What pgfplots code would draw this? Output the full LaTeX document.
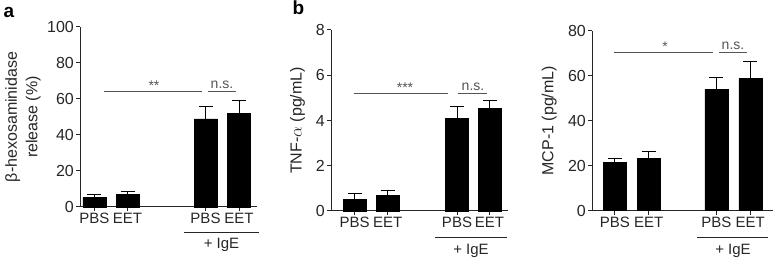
\documentclass[border=0pt]{standalone}
\usepackage{pgfplots}
\pgfplotsset{compat=1.18}
\usepackage{fontspec}
\setmainfont{Liberation Sans}
\definecolor{sig}{HTML}{555555}
\tikzset{sigtext/.style={sig, font=\fontsize{14}{16}\selectfont, anchor=base, inner sep=0pt}}
\pgfplotsset{
  panel/.style={
    scale only axis,
    axis lines=left,
    axis line style={-, line width=1pt, black!85},
    every tick/.style={line width=1pt, black!85},
    tick align=outside,
    major tick length=4pt,
    ybar, bar width=23pt,
    xmin=0, ymin=0,
    xticklabels={PBS,EET,PBS,EET},
    tick label style={font=\fontsize{15}{17}\selectfont, text=black!85},
    yticklabel style={inner sep=2pt, font=\fontsize{16}{18}\selectfont},
    label style={font=\fontsize{16}{20.5}\selectfont, text=black!85},
    xticklabel style={inner sep=2pt},
    /pgf/number format/assume math mode=true,
    clip=false,
    error bars/y dir=plus,
    error bars/y explicit,
    error bars/error mark=|,
    error bars/error bar style={line width=1pt, black},
    error bars/error mark options={line width=1pt, mark size=7pt, black},
  },
  barstyle/.style={fill=black, draw=black, bar shift=0pt},
}
\begin{document}
\begin{tikzpicture}
\path[use as bounding box] (0,0) rectangle (775pt,261pt);
% panel a
\begin{axis}[panel, at={(80pt,54pt)}, anchor=south west,
  width=177pt, height=180pt, xmax=177, ymax=100,
  ytick={0,20,40,60,80,100},
  xtick={14.3,47.5,125.5,159},
  ylabel={β-hexosaminidase\\release (\%)},
  ylabel style={align=center, anchor=center, at={(axis description cs:-0.322,0.5)}},
]
\addplot[barstyle] coordinates {(14.3,5.5) +- (0,1.5) (47.5,7) +- (0,1.5) (125.5,49) +- (0,6.8) (159,52) +- (0,7)};
\draw[sig, line width=1pt] (axis cs:24,64) -- (axis cs:122,64);
\draw[sig, line width=1pt] (axis cs:128,64) -- (axis cs:156,64);
\node[sigtext] at ([yshift=1pt]axis cs:74,64) {**};
\node[sigtext] at ([yshift=3pt]axis cs:142,64) {n.s.};
\draw[black!85, line width=1pt] ([yshift=-26pt]axis cs:104,0) -- ([yshift=-26pt]axis cs:179,0);
\node[black!85, font=\fontsize{15}{17}\selectfont] at ([yshift=-38pt]axis cs:141.5,0) {+ IgE};
\end{axis}
\node[font=\fontsize{19}{22}\selectfont\bfseries, anchor=base west] at (0pt,243pt) {a};
% panel b
\begin{axis}[panel, at={(331pt,50pt)}, anchor=south west,
  width=177pt, height=181pt, xmax=177, ymax=8,
  ytick={0,2,4,6,8},
  xtick={23.6,56.6,126,158.5},
  ylabel={TNF-$\alpha$ (pg/mL)},
  ylabel style={anchor=center, at={(axis description cs:-0.19,0.5)}},
]
\addplot[barstyle] coordinates {(23.6,0.5) +- (0,0.28) (56.6,0.7) +- (0,0.22) (126,4.1) +- (0,0.5) (158.5,4.55) +- (0,0.32)};
\draw[sig, line width=1pt] (axis cs:23,5.18) -- (axis cs:117,5.18);
\draw[sig, line width=1pt] (axis cs:127,5.18) -- (axis cs:156,5.18);
\node[sigtext] at ([yshift=1pt]axis cs:74,5.18) {***};
\node[sigtext] at ([yshift=3pt]axis cs:142,5.18) {n.s.};
\draw[black!85, line width=1pt] ([yshift=-27pt]axis cs:104,0) -- ([yshift=-27pt]axis cs:176,0);
\node[black!85, font=\fontsize{15}{17}\selectfont] at ([yshift=-40pt]axis cs:140,0) {+ IgE};
\end{axis}
\node[font=\fontsize{19}{22}\selectfont\bfseries, anchor=base west] at (289pt,246pt) {b};
% panel c
\begin{axis}[panel, at={(592pt,50.3pt)}, anchor=south west,
  width=181pt, height=180pt, xmax=181, ymax=80,
  ytick={0,20,40,60,80},
  xtick={22.8,56.8,124.3,158.3},
  ylabel={MCP-1 (pg/mL)},
  ylabel style={anchor=center, at={(axis description cs:-0.237,0.5)}},
]
\addplot[barstyle] coordinates {(22.8,21.5) +- (0,1.7) (56.8,23.3) +- (0,2.8) (124.3,54) +- (0,5.1) (158.3,58.7) +- (0,7.4)};
\draw[sig, line width=1pt] (axis cs:22,70.5) -- (axis cs:121,70.5);
\draw[sig, line width=1pt] (axis cs:127,70.5) -- (axis cs:155,70.5);
\node[sigtext] at ([yshift=1pt]axis cs:73,70.5) {*};
\node[sigtext] at ([yshift=3pt]axis cs:141,70.5) {n.s.};
\draw[black!85, line width=1pt] ([yshift=-27pt]axis cs:105,0) -- ([yshift=-27pt]axis cs:176,0);
\node[black!85, font=\fontsize{15}{17}\selectfont] at ([yshift=-40pt]axis cs:141,0) {+ IgE};
\end{axis}
\end{tikzpicture}
\end{document}
